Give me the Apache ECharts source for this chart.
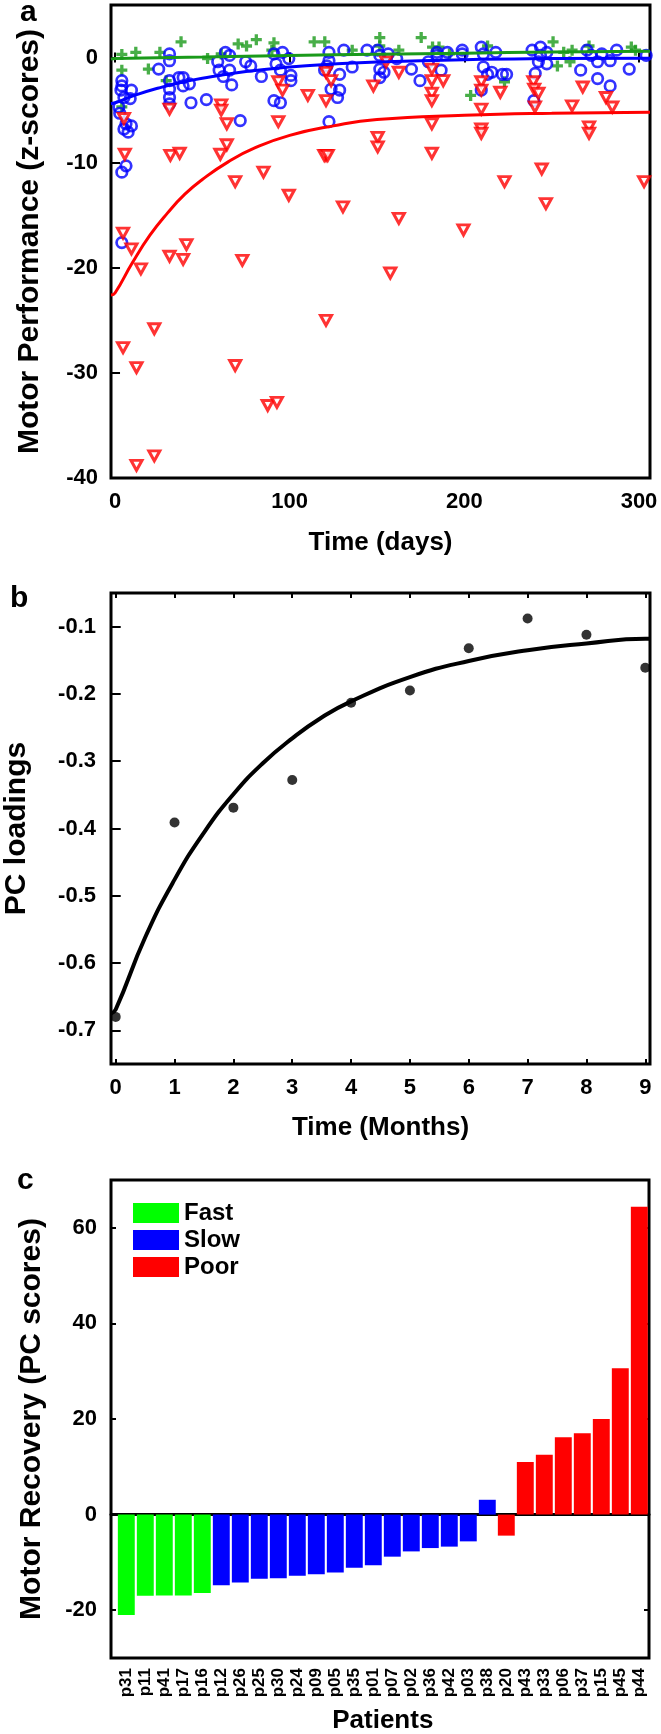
<!DOCTYPE html>
<html><head><meta charset="utf-8">
<script src="https://cdn.jsdelivr.net/npm/echarts@6/dist/echarts.min.js"></script>
<style>html,body{margin:0;padding:0;background:#fff}#c{width:661px;height:1734px}</style>
</head><body><div id="c"></div>
<script>
// ---------- Panel a: motor performance (z-scores) vs time (days) ----------
const fastPts = [[3.9,0.3],[11.9,0.5],[25.7,0.5],[37.8,1.5],[3.9,-1.2],[19.1,-1.1],[29.3,-2.2],[3.9,-4.7],[53,-0.1],[60.8,0.35],[70.5,1.3],[75.3,1.1],[80.9,1.7],[91,1.4],[89.8,0.7],[114,1.5],[120.1,1.5],[135.8,0.7],[151.6,1.9],[151.6,1.1],[162.5,0.7],[175.3,1.9],[181.8,1.0],[185.5,1.0],[191.5,0.35],[203.6,-3.6],[213.3,1.1],[223,-2.3],[250.8,1.5],[256.9,0.5],[253.3,-0.8],[261.7,0.7],[260.5,-0.4],[271.4,1.1],[295.6,1.0],[298,0.7]];
const slowPts = [[3.9,-2.2],[3.9,-2.7],[3.4,-3.1],[5.1,-3.8],[9.4,-3.1],[8.7,-3.9],[2.2,-4.7],[2.7,-5.3],[6.3,-6.3],[5.1,-6.8],[7.5,-7.1],[9.4,-6.5],[6.3,-10.3],[3.9,-10.9],[3.9,-17.6],[25,-1.1],[31.2,0.35],[31.2,-0.3],[31.2,-2.2],[31.2,-3.0],[31.2,-3.8],[31.2,-4.4],[36.6,-1.9],[39,-1.9],[42.6,-2.5],[39,-2.7],[43.5,-4.3],[52.3,-4.0],[58.8,-0.4],[63.2,0.5],[65.6,0.2],[59.6,-1.2],[65.6,-1.2],[62,-1.8],[66.8,-2.6],[71.7,-6.0],[74.8,-0.4],[77.7,-0.8],[83.8,-1.8],[91,0.35],[95.9,0.5],[99.5,-0.1],[92.2,-0.6],[94.7,-1.2],[100.7,-1.7],[100.7,-2.2],[91,-4.1],[94.7,-4.3],[122.5,0.5],[122.5,-0.3],[121.3,-0.8],[120,-1.2],[128.6,-1.6],[123.7,-3.0],[128.6,-3.1],[127.4,-3.8],[122.5,-6.1],[131,0.7],[135.8,-0.9],[144.3,0.7],[150.4,0.7],[151.6,0.2],[151.6,-1.1],[151.6,-1.9],[154,-1.4],[156.4,0.35],[161.3,-0.1],[169.7,-1.1],[174.6,-2.2],[179.4,-0.4],[184.3,0.2],[184.3,0.5],[186.7,-1.2],[190.3,0.5],[198.8,0.7],[198.8,0.35],[209.7,1.0],[210.9,0.35],[210.9,-0.9],[213.3,-1.6],[215.7,-1.4],[218,0.5],[221.8,-1.6],[224.2,-1.6],[209.7,-3.1],[238.8,0.7],[243.6,1.0],[243.6,0.2],[247.2,0.5],[242.4,-0.4],[240.6,-1.5],[239.8,-4.1],[247.2,-0.6],[266.6,-1.2],[270.2,0.7],[272.6,0.2],[276.3,-0.4],[278.7,0.35],[283.5,-0.3],[287.2,0.7],[276.3,-2.0],[283.5,-2.7],[294.4,-1.1],[304.1,0.2]];
const poorPts = [[5.1,-5.8],[5.6,-9.2],[4.6,-16.7],[9.4,-18.2],[14.8,-20.1],[31.2,-4.9],[31.7,-9.3],[37,-9.1],[40.9,-17.8],[31.2,-18.9],[39,-19.2],[60.8,-4.5],[60.8,-5.0],[64,-6.3],[64,-8.3],[60.3,-9.2],[68.8,-11.8],[72.9,-19.3],[85,-10.9],[93.5,-2.3],[93.5,-6.1],[95.9,-3.1],[99.5,-13.1],[110.4,-3.6],[120.8,-1.4],[120.8,-4.1],[120.8,-9.3],[119.8,-9.3],[121.8,-9.3],[123.7,-2.2],[130.5,-14.2],[147.9,-2.7],[150.4,-7.6],[150.4,-8.5],[155.2,-0.4],[162.5,-1.4],[162.5,-15.3],[157.6,-20.5],[181.4,-1.1],[181.4,-2.2],[181.4,-3.4],[181.4,-4.1],[181.4,-6.3],[181.4,-9.1],[187.9,-2.2],[199.5,-16.4],[209.7,-2.3],[209.7,-3.1],[209.7,-4.9],[209.7,-6.8],[209.7,-7.2],[220.6,-3.3],[223,-11.8],[239.5,-2.3],[240,-3.0],[240.4,-4.7],[242.4,-3.4],[244.3,-10.6],[246.7,-13.9],[261.7,-4.6],[267.8,-2.8],[271.4,-6.6],[271.4,-7.2],[281.1,-3.8],[284.7,-4.7],[302.9,-11.8],[120.8,-25.0],[22.5,-25.8],[4.6,-27.6],[12.3,-29.5],[68.8,-29.3],[87.4,-33.1],[92.7,-32.8],[12.3,-38.8],[22.5,-37.9]];
const fastFit = [[-2.3,-0.15],[0,-0.1],[50,0.05],[100,0.2],[150,0.32],[200,0.42],[250,0.52],[306.3,0.6]];
const slowFit = [[-2.3,-4.4],[0,-4.3],[12,-3.55],[25,-2.9],[37,-2.4],[50,-1.97],[75,-1.33],[100,-0.9],[125,-0.62],[150,-0.42],[200,-0.2],[250,-0.1],[306.3,-0.06]];
const poorFit = [[-2.3,-22.6],[0,-22.4],[10,-19.5],[20,-16.9],[30,-14.8],[40,-13.0],[50,-11.6],[65,-9.9],[80,-8.6],[100,-7.4],[125,-6.5],[150,-5.9],[200,-5.5],[250,-5.3],[306.3,-5.2]];

// ---------- Panel b: PC loadings vs time (months) ----------
const months = [0,1,2,3,4,5,6,7,8,9];
const pcLoadings = [-0.680,-0.391,-0.369,-0.328,-0.213,-0.195,-0.132,-0.088,-0.112,-0.161];
const pcFitT = [-0.08,0,0.5,1,1.5,2,2.5,3,3.5,4,5,6,7,8,9,9.08];
const pcFitV = [-0.675,-0.669,-0.562,-0.476,-0.406,-0.349,-0.303,-0.266,-0.235,-0.211,-0.175,-0.151,-0.135,-0.125,-0.118,-0.118];

// ---------- Panel c: motor recovery (PC scores) per patient ----------
const patients = ['p31','p11','p41','p17','p16','p12','p26','p25','p30','p24','p09','p05','p35','p01','p07','p02','p36','p42','p03','p38','p20','p43','p33','p06','p37','p15','p45','p44'];
const scores = [-21.0,-17.0,-16.9,-16.9,-16.4,-14.8,-14.2,-13.4,-13.3,-12.8,-12.5,-12.1,-11.1,-10.6,-8.8,-7.7,-7.0,-6.7,-5.6,3.1,-4.4,11.0,12.5,16.2,17.0,20.0,30.6,64.4];
const groups = ['Fast','Fast','Fast','Fast','Fast','Slow','Slow','Slow','Slow','Slow','Slow','Slow','Slow','Slow','Slow','Slow','Slow','Slow','Slow','Slow','Poor','Poor','Poor','Poor','Poor','Poor','Poor','Poor'];
const groupNames = ['Fast','Slow','Poor'];
const groupColors = {Fast:'#00ff00', Slow:'#0000ff', Poor:'#ff0000'};

const FONT = '"Liberation Sans", Arial, Helvetica, sans-serif';
const txt = (size) => ({fontFamily: FONT, fontWeight: 'bold', fontSize: size, color: '#000'});
const tickIn = {show: true, inside: true, length: 5, lineStyle: {color: '#000', width: 2}};
const noLine = {show: false};
const gridBox = {show: true, borderColor: '#000', borderWidth: 3, backgroundColor: 'rgba(0,0,0,0)', outerBoundsMode: 'none', containLabel: false};

function valAxis(gridIndex, position, min, max, step, split, labelMargin, extra) {
  return Object.assign({
    type: 'value', gridIndex, position, min, max,
    minInterval: step, maxInterval: step, splitNumber: split,
    axisLine: noLine, axisTick: tickIn, splitLine: {show: false},
    axisLabel: labelMargin ? Object.assign(txt(22), {margin: labelMargin, showMinLabel: false, showMaxLabel: false}) : {show: false}
  }, extra || {});
}

const chart = echarts.init(document.getElementById('c'), null, {renderer: 'canvas'});
const option = {
  backgroundColor: '#fff',
  animation: false,
  grid: [
    Object.assign({left: 111, top: 5, width: 539, height: 473}, gridBox),
    Object.assign({left: 111, top: 593, width: 539, height: 471}, gridBox),
    Object.assign({left: 111, top: 1180, width: 538, height: 478}, gridBox),
    {left: 116.8, top: 1180, width: 532, height: 478, show: false, outerBoundsMode: 'none', containLabel: false}
  ],
  legend: {
    data: groupNames, orient: 'vertical', left: 133, top: 1201, itemWidth: 46, itemHeight: 20, itemGap: 3,
    icon: 'rect', selectedMode: false, textStyle: txt(24), padding: 0
  },
  xAxis: [
    valAxis(0, 'bottom', -2.3, 306.3, 100, 3, 13, {name: 'Time (days)', nameLocation: 'middle', nameGap: 52, nameTextStyle: txt(26)}),
    valAxis(0, 'top', -2.3, 306.3, 100, 3, 0),
    valAxis(1, 'bottom', -0.08, 9.08, 1, 9, 13, {name: 'Time (Months)', nameLocation: 'middle', nameGap: 51, nameTextStyle: txt(26)}),
    valAxis(1, 'top', -0.08, 9.08, 1, 9, 0),
    {type: 'value', gridIndex: 2, position: 'bottom', min: 0, max: 1,
     axisLine: {show: true, onZero: true, lineStyle: {color: '#000', width: 3}},
     axisTick: {show: false}, axisLabel: {show: false}, splitLine: {show: false}},
    {type: 'category', gridIndex: 3, position: 'bottom', data: patients,
     axisLine: {show: false, onZero: false}, axisTick: {show: false}, splitLine: {show: false},
     axisLabel: Object.assign(txt(17), {rotate: 90, margin: 10, interval: 0}),
     name: 'Patients', nameLocation: 'middle', nameGap: 50, nameTextStyle: txt(26)}
  ],
  yAxis: [
    {type: 'value', gridIndex: 0, position: 'left', min: -40, max: 5, interval: 10,
     axisLine: noLine, axisTick: tickIn, splitLine: {show: false},
     axisLabel: Object.assign(txt(22), {margin: 13, showMaxLabel: false}),
     name: 'Motor Performance (z-scores)', nameLocation: 'middle', nameGap: 66, nameTextStyle: txt(30)},
    {type: 'value', gridIndex: 0, position: 'right', min: -40, max: 5, interval: 10,
     axisLine: noLine, axisTick: tickIn, splitLine: {show: false}, axisLabel: {show: false}},
    valAxis(1, 'left', -0.75, -0.05, 0.1, 7, 15, {name: 'PC loadings', nameLocation: 'middle', nameGap: 79, nameTextStyle: txt(30)}),
    valAxis(1, 'right', -0.75, -0.05, 0.1, 7, 0),
    valAxis(2, 'left', -30, 70, 20, 5, 14, {name: 'Motor Recovery (PC scores)', nameLocation: 'middle', nameGap: 64, nameTextStyle: txt(30)}),
    valAxis(2, 'right', -30, 70, 20, 5, 0),
    {type: 'value', gridIndex: 3, min: -30, max: 70, show: false}
  ],
  series: [
    {type: 'scatter', xAxisIndex: 0, yAxisIndex: 0, data: fastPts, z: 3,
     symbol: 'path://M3.5,0H6.5V3.5H10V6.5H6.5V10H3.5V6.5H0V3.5H3.5Z', symbolSize: 11, itemStyle: {color: '#1a9a1a'}},
    {type: 'scatter', xAxisIndex: 0, yAxisIndex: 0, data: slowPts, z: 4,
     symbol: 'circle', symbolSize: 10.5, itemStyle: {color: 'rgba(0,0,0,0)', borderColor: '#0000ff', borderWidth: 2.7}},
    {type: 'scatter', xAxisIndex: 0, yAxisIndex: 0, data: poorPts, z: 5,
     symbol: 'triangle', symbolRotate: 180, symbolSize: [11, 10], itemStyle: {color: '#fff', borderColor: '#ff0000', borderWidth: 3}},
    {type: 'line', xAxisIndex: 0, yAxisIndex: 0, data: fastFit, smooth: true, showSymbol: false, z: 6, lineStyle: {color: '#1a9a1a', width: 3}},
    {type: 'line', xAxisIndex: 0, yAxisIndex: 0, data: slowFit, smooth: true, showSymbol: false, z: 6, lineStyle: {color: '#0000ff', width: 3}},
    {type: 'line', xAxisIndex: 0, yAxisIndex: 0, data: poorFit, smooth: true, showSymbol: false, z: 6, lineStyle: {color: '#ff0000', width: 3}},

    {type: 'line', xAxisIndex: 2, yAxisIndex: 2, data: pcFitT.map((t, i) => [t, pcFitV[i]]), smooth: true, showSymbol: false,
     lineStyle: {color: '#000', width: 4}},
    {type: 'scatter', xAxisIndex: 2, yAxisIndex: 2, data: months.map((m, i) => [m, pcLoadings[i]]), symbol: 'circle', symbolSize: 10,
     itemStyle: {color: '#000'}, z: 5},

    ...groupNames.map(g => ({
      name: g, type: 'bar', xAxisIndex: 5, yAxisIndex: 6, barGap: '-100%', barCategoryGap: '11%',
      itemStyle: {color: groupColors[g]},
      data: scores.map((v, i) => groups[i] === g ? v : '-')
    })),
    {type: 'line', xAxisIndex: 4, yAxisIndex: 4, data: [], showSymbol: false}
  ],
  graphic: [
    {type: 'text', left: 20, top: -2, style: {text: 'a', font: 'bold 30px ' + FONT, fill: '#000'}},
    {type: 'text', left: 10, top: 584, style: {text: 'b', font: 'bold 30px ' + FONT, fill: '#000'}},
    {type: 'text', left: 17, top: 1166, style: {text: 'c', font: 'bold 30px ' + FONT, fill: '#000'}}
  ]
};
chart.setOption(option);
</script></body></html>
